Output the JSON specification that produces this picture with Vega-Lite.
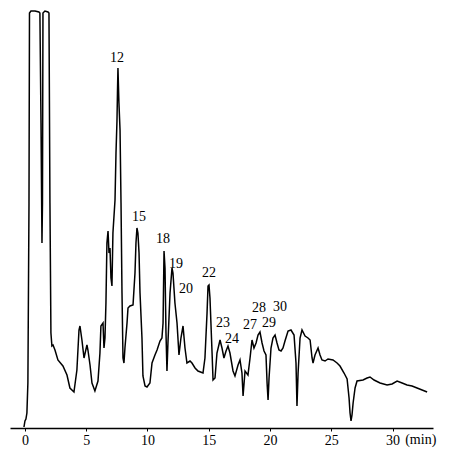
{
"$schema": "https://vega.github.io/schema/vega-lite/v6.json",
"width": 423, "height": 417,
"padding": {"left": 10, "top": 8, "right": 5, "bottom": 5},
"background": "white",
"config": {"view": {"stroke": null}},
"datasets": {
"trace": [
{"t":-0.08,"v":1},{"t":0,"v":7},{"t":0.08,"v":9},{"t":0.16,"v":15},{"t":0.24,"v":45},{"t":0.33,"v":225},{"t":0.37,"v":415},{"t":0.49,"v":417},{"t":0.82,"v":417},{"t":1.14,"v":416},{"t":1.22,"v":415},{"t":1.31,"v":305},{"t":1.39,"v":185},{"t":1.43,"v":225},{"t":1.47,"v":415},{"t":1.63,"v":417},{"t":1.88,"v":416},{"t":1.96,"v":415},{"t":2.04,"v":225},{"t":2.12,"v":95},{"t":2.20,"v":82},{"t":2.29,"v":83},{"t":2.45,"v":78},{"t":2.69,"v":68},{"t":3.10,"v":62},{"t":3.43,"v":53},{"t":3.67,"v":40},{"t":4.00,"v":36},{"t":4.24,"v":58},{"t":4.41,"v":98},{"t":4.49,"v":102},{"t":4.65,"v":88},{"t":4.82,"v":70},{"t":5.06,"v":83},{"t":5.14,"v":78},{"t":5.31,"v":63},{"t":5.47,"v":45},{"t":5.71,"v":37},{"t":5.96,"v":47},{"t":6.12,"v":75},{"t":6.20,"v":102},{"t":6.37,"v":105},{"t":6.45,"v":80},{"t":6.53,"v":90},{"t":6.61,"v":125},{"t":6.69,"v":185},{"t":6.78,"v":197},{"t":6.86,"v":175},{"t":6.94,"v":180},{"t":7.02,"v":150},{"t":7.10,"v":142},{"t":7.18,"v":195},{"t":7.35,"v":228},{"t":7.43,"v":275},{"t":7.51,"v":307},{"t":7.55,"v":335},{"t":7.59,"v":360},{"t":7.67,"v":325},{"t":7.76,"v":298},{"t":7.84,"v":225},{"t":7.92,"v":135},{"t":8.00,"v":70},{"t":8.08,"v":65},{"t":8.16,"v":80},{"t":8.33,"v":105},{"t":8.41,"v":120},{"t":8.57,"v":122},{"t":8.82,"v":123},{"t":8.98,"v":155},{"t":9.06,"v":185},{"t":9.14,"v":200},{"t":9.22,"v":195},{"t":9.31,"v":175},{"t":9.39,"v":135},{"t":9.55,"v":90},{"t":9.63,"v":52},{"t":9.80,"v":42},{"t":9.96,"v":41},{"t":10.20,"v":45},{"t":10.37,"v":65},{"t":10.61,"v":73},{"t":10.78,"v":78},{"t":11.02,"v":87},{"t":11.18,"v":90},{"t":11.27,"v":105},{"t":11.35,"v":177},{"t":11.43,"v":160},{"t":11.51,"v":95},{"t":11.59,"v":57},{"t":11.67,"v":85},{"t":11.84,"v":135},{"t":12.00,"v":160},{"t":12.08,"v":155},{"t":12.24,"v":125},{"t":12.41,"v":105},{"t":12.57,"v":73},{"t":12.73,"v":90},{"t":12.90,"v":102},{"t":13.06,"v":80},{"t":13.22,"v":65},{"t":13.47,"v":67},{"t":13.63,"v":65},{"t":13.88,"v":60},{"t":14.12,"v":57},{"t":14.53,"v":55},{"t":14.69,"v":70},{"t":14.86,"v":115},{"t":14.94,"v":142},{"t":15.02,"v":143},{"t":15.10,"v":130},{"t":15.27,"v":75},{"t":15.35,"v":48},{"t":15.51,"v":50},{"t":15.67,"v":75},{"t":15.92,"v":88},{"t":16.08,"v":80},{"t":16.24,"v":70},{"t":16.41,"v":77},{"t":16.57,"v":82},{"t":16.73,"v":75},{"t":16.98,"v":57},{"t":17.14,"v":52},{"t":17.39,"v":63},{"t":17.55,"v":68},{"t":17.71,"v":55},{"t":17.80,"v":32},{"t":17.96,"v":57},{"t":18.20,"v":53},{"t":18.37,"v":70},{"t":18.53,"v":88},{"t":18.69,"v":80},{"t":18.86,"v":85},{"t":19.02,"v":93},{"t":19.18,"v":96},{"t":19.35,"v":85},{"t":19.51,"v":77},{"t":19.67,"v":73},{"t":19.76,"v":45},{"t":19.84,"v":28},{"t":19.92,"v":50},{"t":20.08,"v":80},{"t":20.24,"v":90},{"t":20.41,"v":93},{"t":20.57,"v":85},{"t":20.73,"v":78},{"t":20.90,"v":77},{"t":21.06,"v":80},{"t":21.22,"v":87},{"t":21.47,"v":97},{"t":21.71,"v":98},{"t":21.96,"v":93},{"t":22.12,"v":65},{"t":22.20,"v":22},{"t":22.29,"v":55},{"t":22.45,"v":90},{"t":22.61,"v":98},{"t":22.86,"v":92},{"t":23.10,"v":90},{"t":23.27,"v":88},{"t":23.43,"v":70},{"t":23.51,"v":65},{"t":23.67,"v":73},{"t":23.92,"v":80},{"t":24.08,"v":73},{"t":24.24,"v":68},{"t":24.49,"v":67},{"t":24.73,"v":69},{"t":25.14,"v":68},{"t":25.47,"v":65},{"t":25.71,"v":62},{"t":26.04,"v":55},{"t":26.29,"v":49},{"t":26.45,"v":30},{"t":26.53,"v":15},{"t":26.61,"v":7},{"t":26.69,"v":13},{"t":26.78,"v":25},{"t":26.94,"v":40},{"t":27.10,"v":47},{"t":27.59,"v":48},{"t":27.92,"v":50},{"t":28.16,"v":51},{"t":28.49,"v":48},{"t":28.98,"v":45},{"t":29.55,"v":43},{"t":29.96,"v":44},{"t":30.37,"v":47},{"t":30.78,"v":45},{"t":31.18,"v":43},{"t":31.59,"v":42},{"t":32.00,"v":40},{"t":32.41,"v":38},{"t":32.82,"v":36}
],
"peaks": [
{"t":7.51,"v":370,"label":"12"},{"t":9.31,"v":211,"label":"15"},{"t":11.27,"v":189,"label":"18"},{"t":12.33,"v":164,"label":"19"},{"t":13.14,"v":139,"label":"20"},{"t":15.02,"v":155,"label":"22"},{"t":16.16,"v":105,"label":"23"},{"t":16.90,"v":89,"label":"24"},{"t":18.37,"v":103,"label":"27"},{"t":19.10,"v":120,"label":"28"},{"t":19.92,"v":105,"label":"29"},{"t":20.82,"v":121,"label":"30"}
],
"unit": [{"t":32.3,"v":-12,"label":"(min)"}]
},
"layer": [
{"data": {"name": "trace"}, "mark": {"type": "line", "color": "black", "strokeWidth": 1.5},
 "encoding": {
  "x": {"field": "t", "type": "quantitative", "scale": {"domain": [-1.22, 33.3], "nice": false, "zero": false},
        "axis": {"values": [0,5,10,15,20,25,30], "title": null, "grid": false, "domainColor": "black", "domainWidth": 1.5, "tickColor": "black", "tickSize": 3, "labelFont": "Liberation Serif", "labelFontSize": 14, "labelColor": "black", "labelPadding": 2}},
  "y": {"field": "v", "type": "quantitative", "scale": {"domain": [0, 417], "nice": false}, "axis": null}
 }},
{"data": {"name": "peaks"}, "mark": {"type": "text", "font": "Liberation Serif", "fontSize": 14, "color": "black", "baseline": "middle"},
 "encoding": {"x": {"field": "t", "type": "quantitative"}, "y": {"field": "v", "type": "quantitative"}, "text": {"field": "label"},
  "fontWeight": {"condition": {"test": "datum.label == '12'", "value": "bold"}, "value": "normal"}}},
{"data": {"name": "unit"}, "mark": {"type": "text", "font": "Liberation Serif", "fontSize": 14, "color": "black", "baseline": "middle"},
 "encoding": {"x": {"field": "t", "type": "quantitative"}, "y": {"field": "v", "type": "quantitative"}, "text": {"field": "label"}}}
]
}
